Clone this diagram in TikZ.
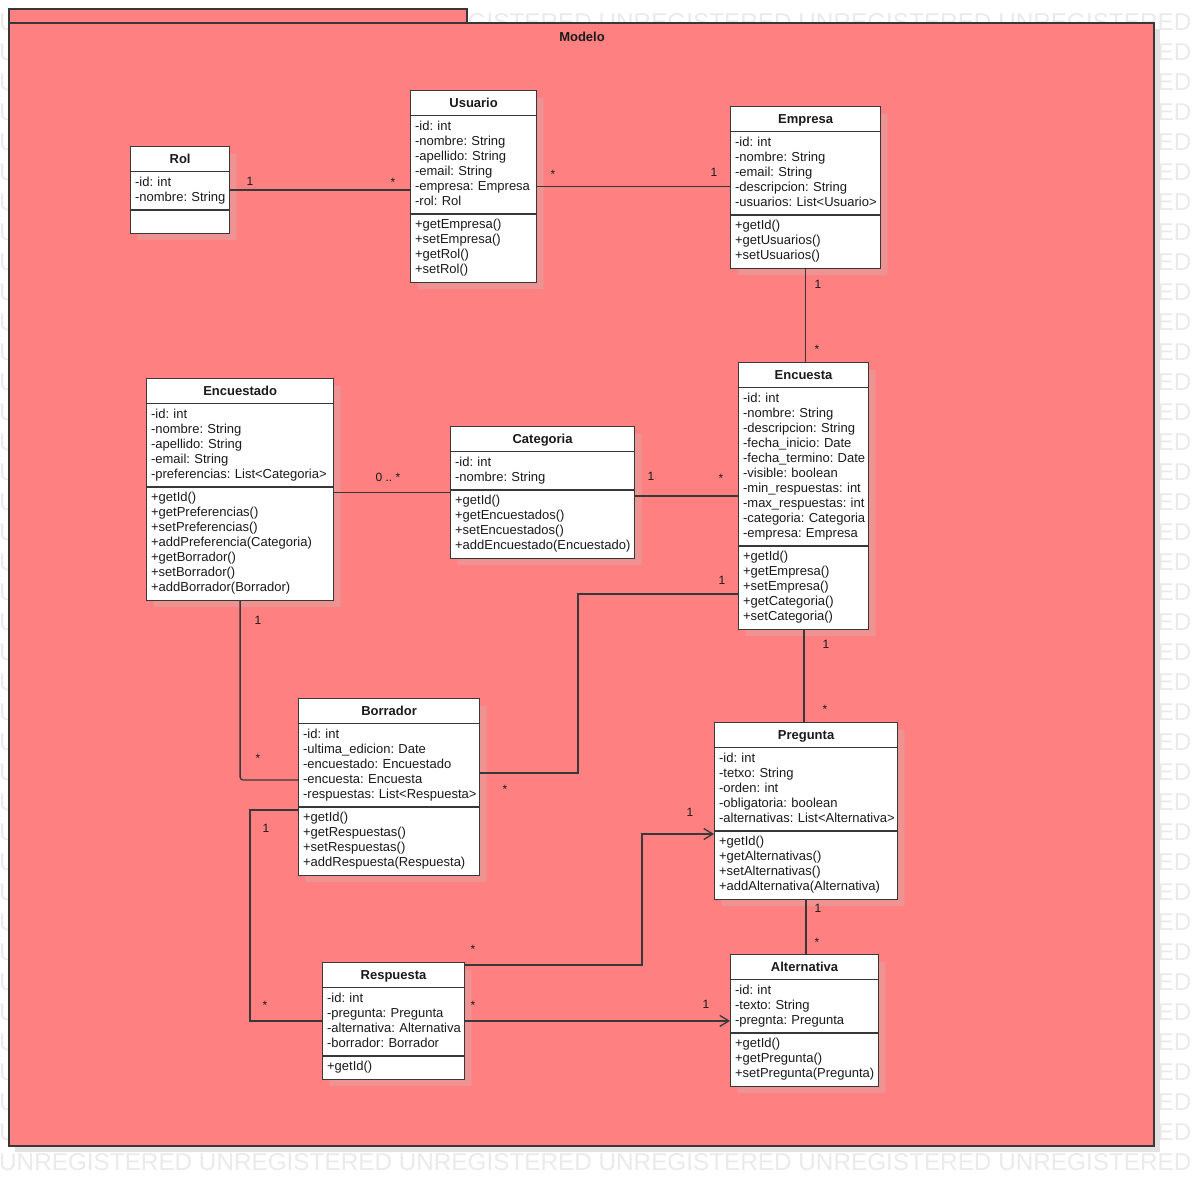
\documentclass[tikz,border=0pt]{standalone}
\usepackage{fontspec}
\setmainfont{Liberation Sans}
\usetikzlibrary{shapes.multipart,shadows,arrows.meta}
\frenchspacing

\definecolor{pkgfill}{RGB}{255,128,128}
\definecolor{pkgline}{RGB}{56,56,56}
\definecolor{clsshadow}{RGB}{238,146,146}
\definecolor{pkgshadow}{RGB}{226,226,226}
\definecolor{wmark}{RGB}{234,234,234}
\definecolor{ink}{RGB}{26,26,26}

% header, attributes, methods
\newcommand{\umlbody}[3]{\noindent\makebox[\hsize][c]{\rule[-4.5pt]{0pt}{17pt}\textbf{#1}}%
  \nodepart{two}\noindent\begin{tabular}{@{}l@{}}#2\end{tabular}%
  \nodepart{three}\noindent\begin{tabular}{@{}l@{}}#3\end{tabular}}

\tikzset{
  umlclass/.style={draw=pkgline, fill=white, line width=1.2pt, text=ink,
    rectangle split, rectangle split parts=3, text width=#1,
    inner xsep=4.5pt, inner ysep=3.5pt, anchor=north west,
    font=\fontsize{13}{15}\selectfont,
    drop shadow={shadow xshift=7pt, shadow yshift=-7pt, fill=clsshadow, opacity=1}},
  assoc/.style={draw=pkgline, line width=1.3pt},
  nav/.style={assoc, -{Straight Barb[length=9pt,width=11pt]}},
  mult/.style={text=ink, inner sep=0pt, font=\fontsize{12}{15}\selectfont},
  wm/.style={text=wmark, inner sep=0pt, anchor=base west, font=\fontsize{24.3}{28}\selectfont}
}

\begin{document}
\begin{tikzpicture}[x=1pt, y=-1pt]
\useasboundingbox (0,0) rectangle (1194,1186);

% watermark
\foreach \r in {0,...,38}
  \node[wm] (wm\r) at (-1,{30.5+30*\r}) {UNREGISTERED UNREGISTERED UNREGISTERED UNREGISTERED UNREGISTERED UNREGISTERED};

% package
\fill[pkgshadow] (15,29) rectangle (1160,1152);
\draw[draw=pkgline, fill=pkgfill, line width=1.5pt] (9,9) rectangle (467,23);
\draw[draw=pkgline, fill=pkgfill, line width=1.5pt] (9,23) rectangle (1154,1146);
\node[mult, font=\fontsize{13}{15}\selectfont\bfseries] (modelo) at (582,37) {Modelo};

% classes
\node[umlclass=90pt] (Rol) at (130,146)
  {\umlbody{Rol}{-id: int\\-nombre: String}{\strut}};
\node[umlclass=117pt] (Usuario) at (410,90)
  {\umlbody{Usuario}{-id: int\\-nombre: String\\-apellido: String\\-email: String\\-empresa: Empresa\\-rol: Rol}%
  {+getEmpresa()\\+setEmpresa()\\+getRol()\\+setRol()}};
\node[umlclass=141pt] (Empresa) at (730,106)
  {\umlbody{Empresa}{-id: int\\-nombre: String\\-email: String\\-descripcion: String\\-usuarios: List<Usuario>}%
  {+getId()\\+getUsuarios()\\+setUsuarios()}};
\node[umlclass=121pt] (Encuesta) at (738,362)
  {\umlbody{Encuesta}{-id: int\\-nombre: String\\-descripcion: String\\-fecha\_inicio: Date\\-fecha\_termino: Date\\-visible: boolean\\-min\_respuestas: int\\-max\_respuestas: int\\-categoria: Categoria\\-empresa: Empresa}%
  {+getId()\\+getEmpresa()\\+setEmpresa()\\+getCategoria()\\+setCategoria()}};
\node[umlclass=178pt] (Encuestado) at (146,378)
  {\umlbody{Encuestado}{-id: int\\-nombre: String\\-apellido: String\\-email: String\\-preferencias: List<Categoria>}%
  {+getId()\\+getPreferencias()\\+setPreferencias()\\+addPreferencia(Categoria)\\+getBorrador()\\+setBorrador()\\+addBorrador(Borrador)}};
\node[umlclass=175pt] (Categoria) at (450,426)
  {\umlbody{Categoria}{-id: int\\-nombre: String}%
  {+getId()\\+getEncuestados()\\+setEncuestados()\\+addEncuestado(Encuestado)}};
\node[umlclass=172pt] (Borrador) at (298,698)
  {\umlbody{Borrador}{-id: int\\-ultima\_edicion: Date\\-encuestado: Encuestado\\-encuesta: Encuesta\\-respuestas: List<Respuesta>}%
  {+getId()\\+getRespuestas()\\+setRespuestas()\\+addRespuesta(Respuesta)}};
\node[umlclass=174pt] (Pregunta) at (714,722)
  {\umlbody{Pregunta}{-id: int\\-tetxo: String\\-orden: int\\-obligatoria: boolean\\-alternativas: List<Alternativa>}%
  {+getId()\\+getAlternativas()\\+setAlternativas()\\+addAlternativa(Alternativa)}};
\node[umlclass=133pt] (Respuesta) at (322,962)
  {\umlbody{Respuesta}{-id: int\\-pregunta: Pregunta\\-alternativa: Alternativa\\-borrador: Borrador}%
  {+getId()}};
\node[umlclass=139pt] (Alternativa) at (730,954)
  {\umlbody{Alternativa}{-id: int\\-texto: String\\-pregnta: Pregunta}%
  {+getId()\\+getPregunta()\\+setPregunta(Pregunta)}};

% bend points
\coordinate (eb1) at (578,594);
\coordinate (eb2) at (578,773);
\coordinate (ed) at (0,780);
\coordinate (br) at (250,810);
\coordinate (rp1) at (642,965);
\coordinate (rp2) at (642,834);

% associations
\draw[assoc] (Rol.east) -- (Rol.east -| Usuario.west);
\draw[assoc] (Usuario.east) -- (Usuario.east -| Empresa.west);
\draw[assoc] (Empresa.south) -- (Empresa.south |- Encuesta.north);
\draw[assoc] (Categoria.west -| Encuestado.east) -- (Categoria.west);
\draw[assoc] (Encuesta.west -| Categoria.east) -- (Encuesta.west);
\draw[assoc] (eb1 -| Encuesta.west) -- (eb1) -- (eb2) -- (eb2 -| Borrador.east);
\draw[assoc, rounded corners=3pt] (Encuestado.south) |- (ed -| Borrador.west);
\draw[assoc, line width=2pt] (Encuesta.south) -- (Encuesta.south |- Pregunta.north);
\draw[assoc] (br -| Borrador.west) -- (br) |- (Respuesta.west);
\draw[nav] (rp1 -| Respuesta.east) -- (rp1) -- (rp2) -- (rp2 -| Pregunta.west);
\draw[nav] (Respuesta.east) -- (Respuesta.east -| Alternativa.west);
\draw[assoc] (Pregunta.south) -- (Pregunta.south |- Alternativa.north);

% multiplicities
\node[mult] (m1) at (250,181) {1};
\node[mult] (m2) at (393,182) {*};
\node[mult] (m3) at (553,174) {*};
\node[mult] (m4) at (714,172) {1};
\node[mult] (m5) at (818,284) {1};
\node[mult] (m6) at (817,349) {*};
\node[mult] (m7) at (388,477) {0 .. *};
\node[mult] (m8) at (651,476) {1};
\node[mult] (m9) at (721,478) {*};
\node[mult] (m10) at (722,580) {1};
\node[mult] (m11) at (505,789) {*};
\node[mult] (m12) at (258,620) {1};
\node[mult] (m13) at (258,758) {*};
\node[mult] (m14) at (826,644) {1};
\node[mult] (m15) at (825,709) {*};
\node[mult] (m16) at (266,828) {1};
\node[mult] (m17) at (265,1005) {*};
\node[mult] (m18) at (473,949) {*};
\node[mult] (m19) at (690,812) {1};
\node[mult] (m20) at (473,1005) {*};
\node[mult] (m21) at (706,1004) {1};
\node[mult] (m22) at (818,908) {1};
\node[mult] (m23) at (817,942) {*};
\end{tikzpicture}
\end{document}
